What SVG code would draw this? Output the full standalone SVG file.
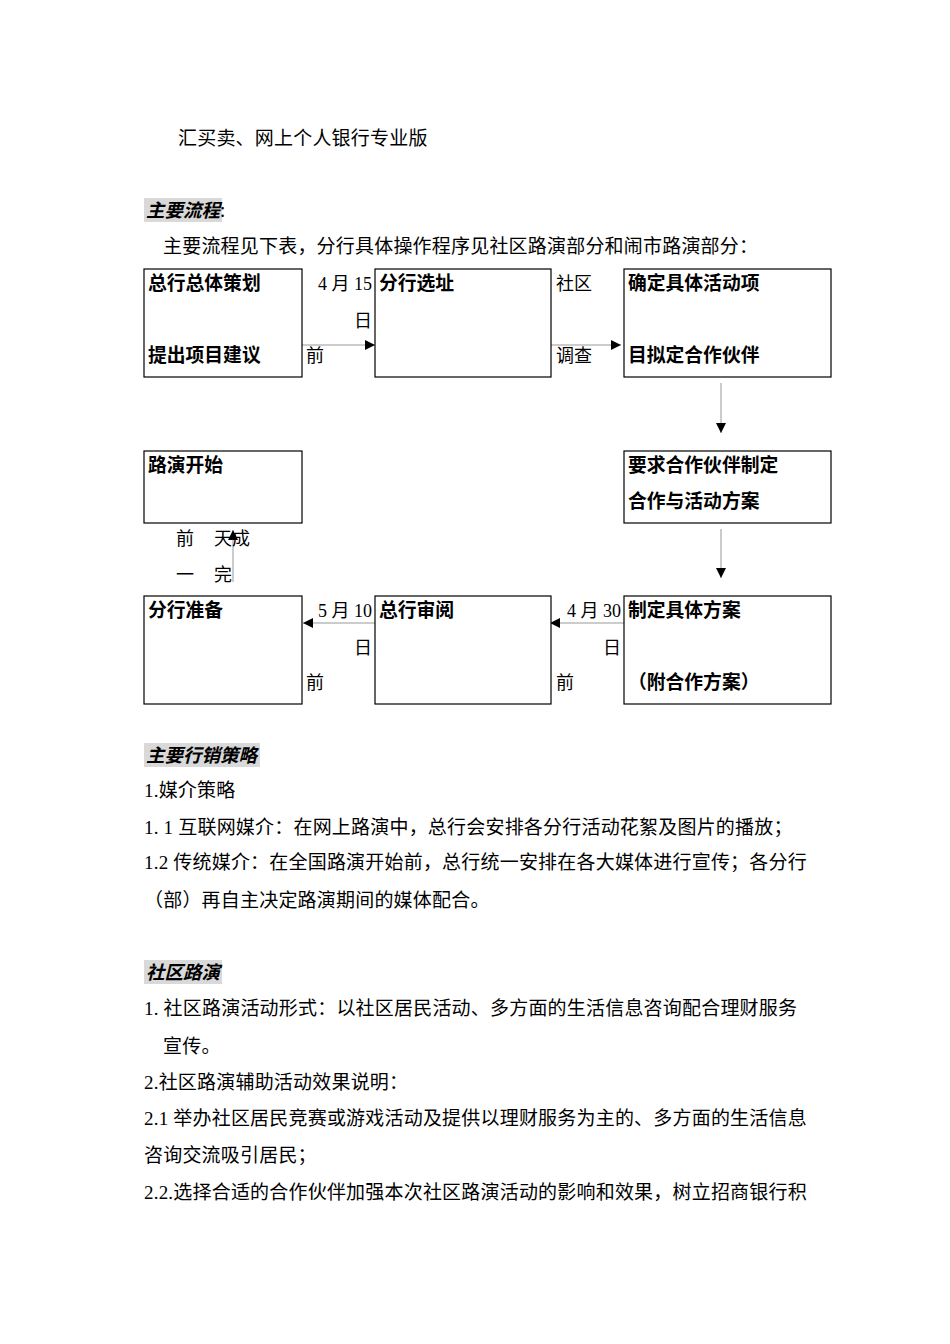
<svg xmlns="http://www.w3.org/2000/svg" width="950" height="1344" viewBox="0 0 950 1344">
<style>
.body{font-family:"Liberation Serif","Noto Sans CJK SC",serif;font-size:19px;letter-spacing:0.2px;fill:#000}
.lbl{font-family:"Liberation Serif","Noto Sans CJK SC",serif;font-size:18px;fill:#000}
.bx{fill:#fff;stroke:#000;stroke-width:1.2}
.bt{font-family:"Noto Sans CJK SC","Liberation Sans",sans-serif;font-size:18.8px;font-weight:bold;fill:#000}
.hd{font-family:"Noto Sans CJK SC","Liberation Sans",sans-serif;font-size:18.5px;font-weight:bold;font-style:italic;fill:#000}
.hl{fill:#d9d9d9}
.cn{stroke:#999;stroke-width:1;fill:none;marker-end:url(#ah)}
</style>
<defs>
<marker id="ah" markerUnits="userSpaceOnUse" markerWidth="10" markerHeight="10" refX="10" refY="5" orient="auto">
<path d="M0,0 L10,5 L0,10 Z" fill="#000"/>
</marker>
</defs>
<rect width="950" height="1344" fill="#fff"/>

<text class="body" x="178" y="145">汇买卖、网上个人银行专业版</text>
<rect class="hl" x="144" y="198" width="78" height="24"/>
<text class="hd" x="146" y="217">主要流程<tspan font-style="normal" font-weight="normal">:</tspan></text>
<text class="body" x="163" y="253">主要流程见下表，分行具体操作程序见社区路演部分和闹市路演部分：</text>

<g id="connectors">
<path class="cn" d="M302,345 H375"/>
<path class="cn" d="M551,345 H621"/>
<path class="cn" d="M721,383 V433"/>
<path class="cn" d="M721,529 V578"/>
<path class="cn" d="M624,623 H550"/>
<path class="cn" d="M375,623 H303"/>
<path class="cn" d="M233,582 V530"/>
</g>

<g id="n1"><rect class="bx" x="144" y="269" width="158" height="108"/>
<text class="bt" x="148" y="290">总行总体策划</text><text class="bt" x="148" y="362">提出项目建议</text></g>
<g id="n2"><rect class="bx" x="375" y="269" width="176" height="108"/>
<text class="bt" x="379" y="290">分行选址</text></g>
<g id="n3"><rect class="bx" x="624" y="269" width="207" height="108"/>
<text class="bt" x="628" y="290">确定具体活动项</text><text class="bt" x="628" y="362">目拟定合作伙伴</text></g>
<g id="n4"><rect class="bx" x="144" y="451" width="158" height="72"/>
<text class="bt" x="148" y="472">路演开始</text></g>
<g id="n5"><rect class="bx" x="624" y="451" width="207" height="72"/>
<text class="bt" x="628" y="472">要求合作伙伴制定</text><text class="bt" x="628" y="508">合作与活动方案</text></g>
<g id="n6"><rect class="bx" x="144" y="596" width="158" height="108"/>
<text class="bt" x="148" y="617">分行准备</text></g>
<g id="n7"><rect class="bx" x="375" y="596" width="176" height="108"/>
<text class="bt" x="379" y="617">总行审阅</text></g>
<g id="n8"><rect class="bx" x="624" y="596" width="207" height="108"/>
<text class="bt" x="628" y="617">制定具体方案</text><text class="bt" x="628" y="689">（附合作方案）</text></g>

<g id="labels">
<text class="lbl" x="318" y="290">4 月 15</text>
<text class="lbl" x="354" y="327">日</text>
<text class="lbl" x="306" y="362">前</text>
<text class="lbl" x="556" y="290">社区</text>
<text class="lbl" x="556" y="362">调查</text>
<text class="lbl" x="176" y="545">前</text>
<text class="lbl" x="176" y="581">一</text>
<text class="lbl" x="214" y="545">天成</text>
<text class="lbl" x="214" y="581">完</text>
<text class="lbl" x="318" y="617">5 月 10</text>
<text class="lbl" x="354" y="654">日</text>
<text class="lbl" x="306" y="689">前</text>
<text class="lbl" x="567" y="617">4 月 30</text>
<text class="lbl" x="603" y="654">日</text>
<text class="lbl" x="556" y="689">前</text>
</g>

<rect class="hl" x="144" y="743" width="116" height="24"/>
<text class="hd" x="146" y="762">主要行销策略</text>
<text class="body" x="144" y="797">1.媒介策略</text>
<text class="body" x="144" y="834">1. 1 互联网媒介：在网上路演中，总行会安排各分行活动花絮及图片的播放；</text>
<text class="body" x="144" y="869">1.2 传统媒介：在全国路演开始前，总行统一安排在各大媒体进行宣传；各分行</text>
<text class="body" x="144" y="907">（部）再自主决定路演期间的媒体配合。</text>

<rect class="hl" x="144" y="960" width="78" height="24"/>
<text class="hd" x="146" y="979">社区路演</text>
<text class="body" x="144" y="1015">1. 社区路演活动形式：以社区居民活动、多方面的生活信息咨询配合理财服务</text>
<text class="body" x="163" y="1053">宣传。</text>
<text class="body" x="144" y="1089">2.社区路演辅助活动效果说明：</text>
<text class="body" x="144" y="1125">2.1 举办社区居民竞赛或游戏活动及提供以理财服务为主的、多方面的生活信息</text>
<text class="body" x="144" y="1162">咨询交流吸引居民；</text>
<text class="body" x="144" y="1199">2.2.选择合适的合作伙伴加强本次社区路演活动的影响和效果，树立招商银行积</text>
</svg>
